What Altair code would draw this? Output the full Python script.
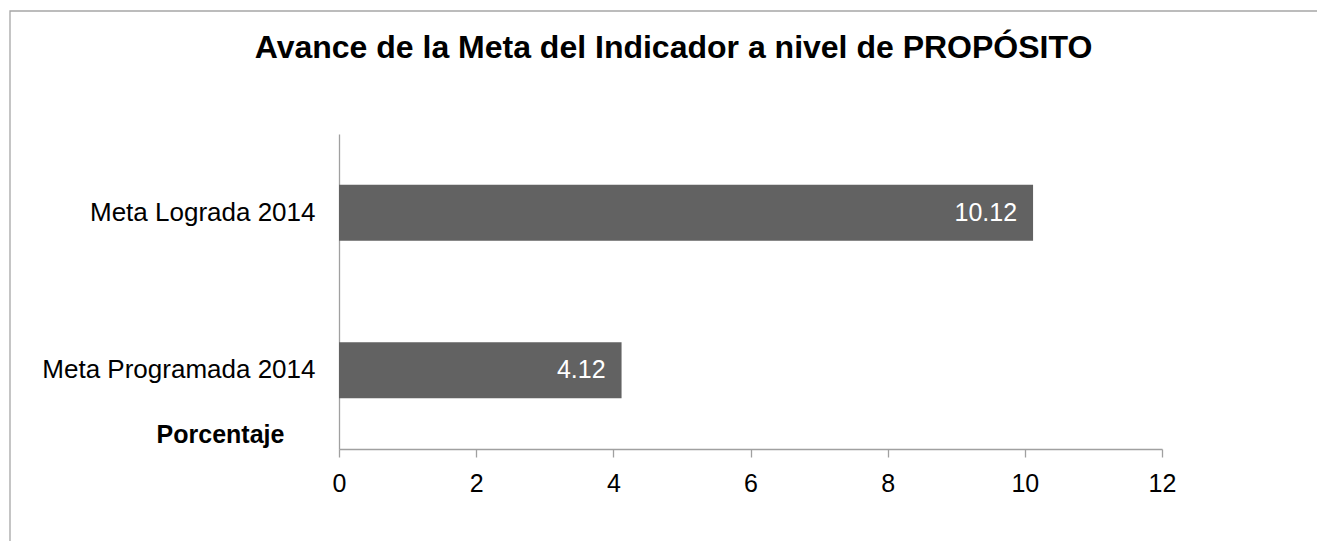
import altair as alt
import pandas as pd

categories = ["Meta Lograda 2014", "Meta Programada 2014"]
values = [10.12, 4.12]
value_labels = ["10.12", "4.12"]
x_ticks = [0, 2, 4, 6, 8, 10, 12]

df = pd.DataFrame({"cat": categories, "val": values, "lbl": value_labels})
FONT = "Liberation Sans"

border = alt.Chart(pd.DataFrame({"a": [0]})).mark_rect(
    fill=None, stroke="#a6a6a6", strokeWidth=1.3
).encode(
    x=alt.value(-329), x2=alt.value(2000), y=alt.value(-123), y2=alt.value(2000)
)

y_enc = alt.Y(
    "cat:N",
    sort=categories,
    scale=alt.Scale(paddingInner=0.644, paddingOuter=0.322),
    axis=alt.Axis(
        title=None, ticks=False, labelPadding=24, labelFont=FONT, labelFontSize=26,
        labelColor="black", domainColor="#a0a0a0", domainWidth=1.3, labelLimit=400,
    ),
)

bars = alt.Chart(df).mark_bar(color="#626262").encode(
    x=alt.X(
        "val:Q",
        scale=alt.Scale(domain=[0, 12], nice=False),
        axis=alt.Axis(
            values=x_ticks, format="d", grid=False, tickSize=8, tickColor="#a0a0a0",
            tickWidth=1.3, domainColor="#a0a0a0", domainWidth=1.3, labelPadding=14,
            labelFlush=False, labelFont=FONT, labelFontSize=25, labelColor="black",
            title="Porcentaje", titleFont=FONT, titleFontSize=25, titleFontWeight="bold",
            titleColor="black", titleX=-119, titleY=-14.5, titleAlign="center",
            titleBaseline="middle",
        ),
    ),
    y=y_enc,
)

texts = alt.Chart(df).mark_text(
    align="right", baseline="middle", dx=-16, font=FONT, fontSize=25, color="white"
).encode(
    x="val:Q",
    y=alt.Y("cat:N", sort=categories),
    text="lbl:N",
)

chart = alt.layer(border, bars, texts).properties(
    width=823,
    height=315,
    autosize=alt.AutoSizeParams(type="none"),
    padding={"left": 331, "top": 126, "right": 155, "bottom": 92},
    title=alt.TitleParams(
        text="Avance de la Meta del Indicador a nivel de PROPÓSITO",
        font=FONT, fontSize=32, fontWeight="bold", color="black",
        anchor="middle", frame="group", dx=-77, offset=-55,
    ),
).configure_view(stroke=None)

chart.save("out.html", embed_options={"renderer": "svg", "actions": False})
